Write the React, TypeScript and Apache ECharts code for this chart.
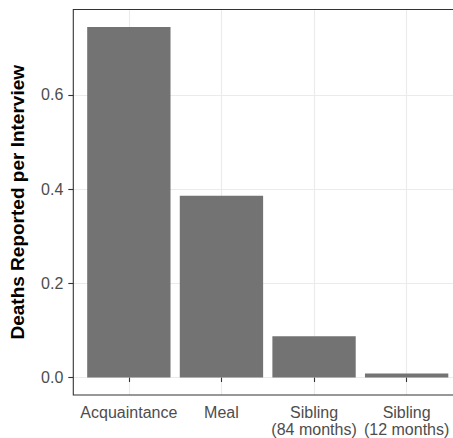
import React, { useEffect, useRef } from "react";
import * as echarts from "echarts";

const categories = ["Acquaintance", "Meal", "Sibling\n(84 months)", "Sibling\n(12 months)"];
const values = [0.744, 0.386, 0.0876, 0.0085];
const yTicks = [0, 0.2, 0.4, 0.6];
const xPositions = [1, 2, 3, 4];
const yTitle = "Deaths Reported per Interview";

const FONT = "'Liberation Sans', Arial, Helvetica, sans-serif";

export default function App() {
  const ref = useRef<HTMLDivElement>(null);
  useEffect(() => {
    if (!ref.current) return;
    const chart = echarts.init(ref.current, undefined, { renderer: "svg" });
    const left = 73.3;
    const top = 9.5;
    const width = 388.9;
    const height = 385.5;
    const band = width / 4.2;
    const maxV = Math.max(...values);
    const yMin = -0.05 * maxV;
    const yMax = maxV * 1.05;
    chart.setOption({
      animation: false,
      backgroundColor: "#ffffff",
      grid: {
        left,
        top,
        width,
        height,
        outerBoundsMode: "none",
        containLabel: false,
        show: false,
      },
      xAxis: {
        type: "value",
        min: 0.4,
        max: 4.6,
        axisLine: { show: false },
        axisTick: {
          show: true,
          customValues: xPositions,
          length: 4.5,
          lineStyle: { color: "#333333", width: 1.1 },
        },
        axisLabel: {
          show: true,
          customValues: xPositions,
          formatter: (v: number) => categories[Math.round(v) - 1] ?? "",
          color: "#4d4d4d",
          fontSize: 16,
          fontFamily: FONT,
          margin: 9,
          lineHeight: 17,
        },
        splitLine: { show: true, lineStyle: { color: "#ebebeb", width: 1.1 } },
      },
      yAxis: {
        type: "value",
        min: yMin,
        max: yMax,
        name: yTitle,
        nameLocation: "middle",
        nameGap: 46,
        nameTextStyle: {
          color: "#000000",
          fontSize: 19,
          fontWeight: "bold",
          fontFamily: FONT,
        },
        axisLine: { show: false },
        axisTick: {
          show: true,
          customValues: yTicks,
          length: 5,
          lineStyle: { color: "#333333", width: 1.1 },
        },
        axisLabel: {
          show: true,
          customValues: yTicks,
          formatter: (v: number) => v.toFixed(1),
          color: "#4d4d4d",
          fontSize: 16,
          fontFamily: FONT,
          margin: 10,
        },
        splitLine: { show: true, lineStyle: { color: "#ebebeb", width: 1.1 } },
      },
      series: [
        {
          type: "bar",
          data: values.map((v, i) => [xPositions[i], v]),
          barWidth: band * 0.9,
          itemStyle: { color: "#737373" },
        },
      ],
      graphic: [
        {
          type: "rect",
          z: 100,
          silent: true,
          shape: { x: left, y: top, width, height },
          style: { fill: "none", stroke: "#333333", lineWidth: 1.1 },
        },
      ],
    });
    return () => chart.dispose();
  }, []);
  return (
    <div
      style={{
        position: "absolute",
        left: 0,
        top: 0,
        width: 453,
        height: 438,
        overflow: "hidden",
        background: "#fff",
      }}
    >
      <div ref={ref} style={{ width: 480, height: 438 }} />
    </div>
  );
}
